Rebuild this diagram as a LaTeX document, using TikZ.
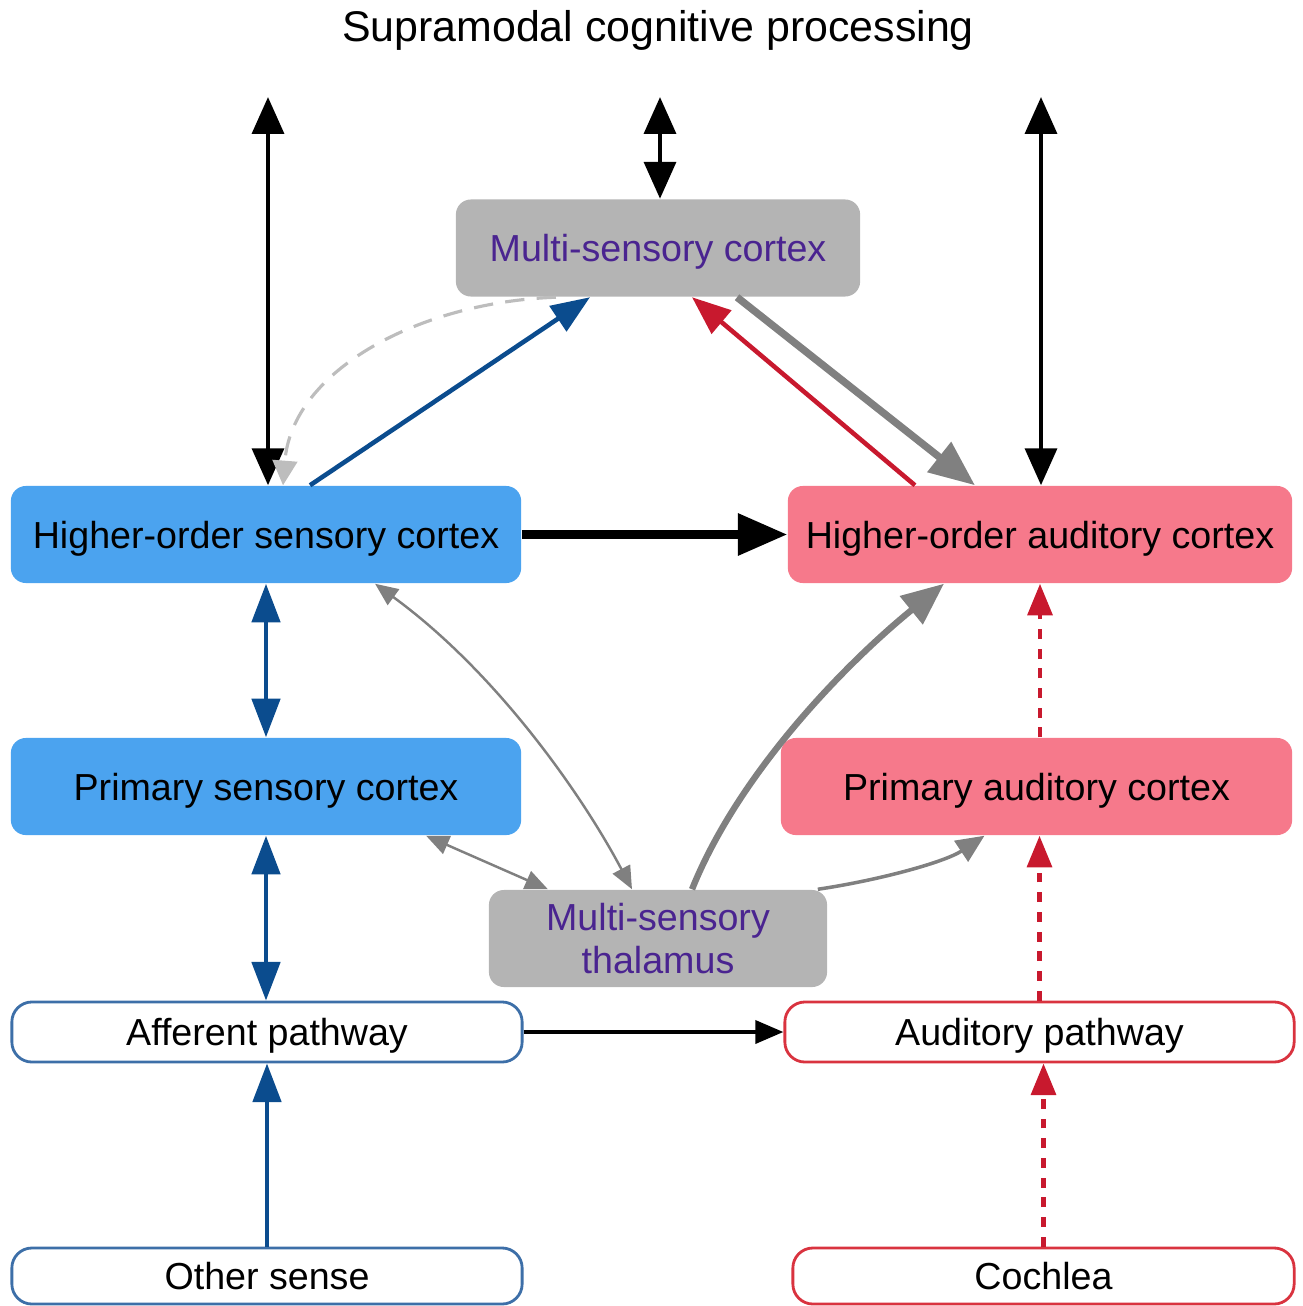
\documentclass[tikz,border=0pt]{standalone}
\usepackage{fontspec}
\setmainfont{Liberation Sans}
\usepackage{tikz}
\usetikzlibrary{arrows.meta}
\definecolor{sensebg}{HTML}{4BA3EF}
\definecolor{audbg}{HTML}{F6798B}
\definecolor{multibg}{HTML}{B4B4B4}
\definecolor{multitext}{HTML}{4A2490}
\definecolor{senseline}{HTML}{0B4C8E}
\definecolor{audline}{HTML}{C8192E}
\definecolor{senseedge}{HTML}{3D6FA8}
\definecolor{audedge}{HTML}{D9333F}
\definecolor{thalline}{HTML}{808080}
\definecolor{fbline}{HTML}{BDBDBD}

\begin{document}
\begin{tikzpicture}[x=0.01cm, y=-0.01cm,
    box/.style={rectangle, rounded corners=0.15cm, minimum height=0.97cm, align=center, inner sep=0pt, text height=1em, text depth=0.22em, font=\fontsize{10.7}{12}\selectfont},
    sensebox/.style={box, fill=sensebg},
    audbox/.style={box, fill=audbg},
    multibox/.style={box, fill=multibg, text=multitext},
    pathbox/.style={box, draw, fill=white, line width=0.8pt, rounded corners=0.2cm, minimum height=0.6cm},
    dbl/.style={{Triangle[length=10.5pt,width=9pt]}-{Triangle[length=10.5pt,width=9pt]}, line width=1.3pt},
    arrow/.style={-{Triangle[length=11pt,width=8.5pt]}, line width=1.3pt},
    thick arrow/.style={-{Triangle[length=13pt,width=10.5pt]}, line width=2.1pt},
    thin dbl/.style={{Triangle[length=6.5pt,width=5.5pt]}-{Triangle[length=6.5pt,width=5.5pt]}, line width=0.7pt, thalline},
    dotted arrow/.style={-{Triangle[length=9pt,width=7pt]}, line width=1.3pt, audline, dash pattern=on 2.8pt off 2.8pt}
]
\useasboundingbox (0,0) rectangle (1302,1306);

\node[font=\fontsize{12.2}{14}\selectfont] (title) at (658,30) {Supramodal cognitive processing};

\node[multibox, minimum width=4.04cm] (msc) at (658,248) {Multi-sensory cortex};
\node[sensebox, minimum width=5.1cm] (hosc) at (266,534.5) {Higher-order sensory cortex};
\node[audbox, minimum width=5.04cm] (hoac) at (1040,534.5) {Higher-order auditory cortex};
\node[sensebox, minimum width=5.1cm] (psc) at (266,786.5) {Primary sensory cortex};
\node[audbox, minimum width=5.11cm] (pac) at (1036.5,786.5) {Primary auditory cortex};
\node[multibox, minimum width=3.38cm, text height={}, text depth={}] (mst) at (658,938.5) {Multi-sensory\\thalamus};
\node[pathbox, draw=senseedge, minimum width=5.1cm] (aff) at (267,1032) {Afferent pathway};
\node[pathbox, draw=audedge, minimum width=5.09cm] (aud) at (1039.5,1032) {Auditory pathway};
\node[pathbox, draw=senseedge, minimum width=5.1cm, minimum height=0.56cm] (other) at (267,1276) {Other sense};
\node[pathbox, draw=audedge, minimum width=5.01cm, minimum height=0.56cm] (cochlea) at (1043.5,1276) {Cochlea};

\coordinate (topL) at (268,97);
\coordinate (topM) at (660,97);
\coordinate (topR) at (1041,97);

% to and from supramodal processing
\draw[dbl] (topL) -- (topL |- hosc.north);
\draw[dbl] (topM) -- (topM |- msc.north);
\draw[dbl] (topR) -- (topR |- hoac.north);

% cortex to cortex
\draw[arrow, senseline] ([xshift=0.44cm]hosc.north) -- ([xshift=-0.68cm]msc.south);
\draw[-{Triangle[length=7pt,width=7pt]}, line width=0.9pt, fbline, dash pattern=on 5.5pt off 3.5pt]
    ([xshift=-1.02cm]msc.south) .. controls (420,302) and (292,370) .. ([xshift=0.17cm]hosc.north);
\draw[arrow, audline] ([xshift=-1.25cm]hoac.north) -- ([xshift=0.34cm]msc.south);
\draw[thick arrow, thalline] ([xshift=0.79cm]msc.south) -- ([xshift=-0.65cm]hoac.north);
\draw[-{Triangle[length=14pt,width=11.5pt]}, line width=2.3pt] (hosc.east) -- (hoac.west);

% sensory side
\draw[dbl, senseline, {Triangle[length=11pt,width=8pt]}-{Triangle[length=11pt,width=8pt]}] (hosc.south) -- (psc.north);
\draw[dbl, senseline, {Triangle[length=11pt,width=8pt]}-{Triangle[length=11pt,width=8pt]}] (psc.south) -- (psc.south |- aff.north);
\draw[arrow, senseline, -{Triangle[length=11pt,width=8pt]}] (other.north) -- (aff.south);

% auditory side
\draw[dotted arrow] (hoac.south |- pac.north) -- (hoac.south);
\draw[dotted arrow] (aud.north) -- (aud.north |- pac.south);
\draw[dotted arrow] (cochlea.north) -- (cochlea.north |- aud.south);
\draw[-{Triangle[length=8pt,width=6.5pt]}, line width=1.2pt] (aff.east) -- (aud.west);

% thalamus
\draw[thin dbl] ([xshift=1.09cm]hosc.south) .. controls (500,675) and (585,800) .. ([xshift=-0.26cm]mst.north);
\draw[thin dbl] ([xshift=1.6cm]psc.south) -- ([xshift=-1.1cm]mst.north);
\draw[-{Triangle[length=8pt,width=7pt]}, line width=1pt, thalline]
    ([xshift=-0.1cm]mst.north east) .. controls (880,880) and (945,862) .. ([xshift=-0.52cm]pac.south);
\draw[-{Triangle[length=12pt,width=10pt]}, line width=1.8pt, thalline]
    ([xshift=0.34cm]mst.north) .. controls (740,770) and (850,660) .. ([xshift=-0.96cm]hoac.south);

\end{tikzpicture}
\end{document}
